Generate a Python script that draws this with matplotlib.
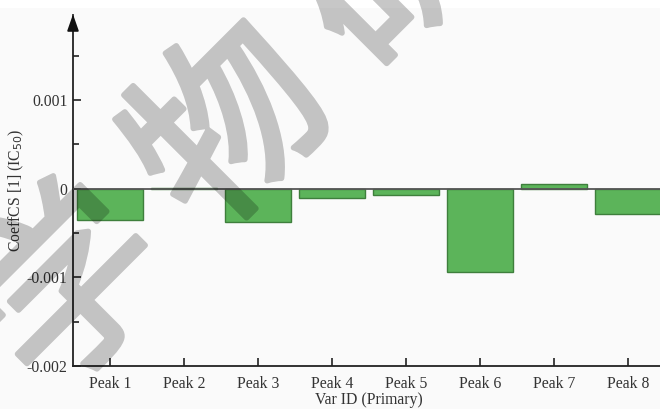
"""Bar chart of CoeffCS coefficients per peak."""
import numpy as np
import matplotlib
matplotlib.use("Agg")
import matplotlib.pyplot as plt
import matplotlib.patheffects as pe
from matplotlib.patches import Rectangle

peaks = ['Peak 1', 'Peak 2', 'Peak 3', 'Peak 4', 'Peak 5', 'Peak 6', 'Peak 7', 'Peak 8']
coeffs = [-0.00035, 0.00001, -0.00037, -0.00011, -0.00007, -0.00094, 0.00005, -0.00028]
yticks = [-0.002, -0.001, 0, 0.001]
ytick_labels = ['-0.002', '-0.001', '0', '0.001']
watermark_chars = ['学', '物', '研']

plt.rcParams['font.family'] = ['Liberation Serif', 'DejaVu Serif']

W, H = 660, 409
fig = plt.figure(figsize=(W / 100, H / 100), dpi=100)
fig.patch.set_facecolor('white')
fig.patches.append(Rectangle((0, 0), 1, 1 - 8 / H, transform=fig.transFigure,
                             facecolor='#fafafa', edgecolor='none', zorder=-10))

ax = fig.add_axes([73 / W, 43 / H, 8 * 74 / W, 351 / H])
ax.set_facecolor('none')

x = np.arange(len(peaks))
ax.bar(x, coeffs, width=0.9, color='#5cb45a', edgecolor='#3e7f3c', linewidth=1.0, zorder=3)
ax.axhline(0, color='#555555', linewidth=1.3, zorder=4)

ax.set_xlim(-0.5, 7.5)
ax.set_ylim(-0.002, 0.00196)

for side in ['top', 'right']:
    ax.spines[side].set_visible(False)
for side in ['left', 'bottom']:
    ax.spines[side].set_linewidth(1.3)
    ax.spines[side].set_color('#222222')

ax.set_xticks(x)
ax.set_xticklabels(peaks)
ax.set_yticks(yticks)
ax.set_yticklabels(ytick_labels)
ax.set_yticks([-0.0015, -0.0005, 0.0005, 0.0015], minor=True)
ax.tick_params(axis='both', which='major', direction='in', length=6, width=1.2,
               colors='#222222', labelsize=11.3, labelcolor='#333333')
ax.tick_params(axis='y', which='minor', direction='in', length=4, width=1.2, colors='#222222')
ax.tick_params(axis='y', pad=4)
ax.tick_params(axis='x', pad=7)

ax.set_xlabel('Var ID (Primary)', fontsize=11.3, color='#333333', labelpad=0)
ax.set_ylabel('CoeffCS [1] (IC$_{50}$)', fontsize=11.3, color='#333333')
ax.yaxis.set_label_coords(-47 / 592, 0.5)

# arrow head on top of the y axis
ax.annotate('', xy=(0, 1.01), xytext=(0, 0.955), xycoords='axes fraction',
            arrowprops=dict(arrowstyle='-|>,head_length=1.0,head_width=0.35',
                            color='#111111', lw=1.3), annotation_clip=False)


def fade(img, dpi):
    # draw the glyph opaque, then make the whole thing translucent at once
    img = img.copy()
    img[..., 3] *= 0.22
    return img, 0, 0


# watermark, one glyph at a time along a diagonal; the stroke thickens the glyphs
for i, ch in enumerate(watermark_chars):
    cx = 235 + (i - 1) * 160
    cy = 132 - (i - 1) * 162
    t = fig.text(cx / W, 1 - cy / H, ch, fontsize=136, color='black',
                 family=['Noto Sans CJK SC', 'DejaVu Sans'], rotation=45,
                 ha='center', va='center', rotation_mode='anchor', zorder=20,
                 path_effects=[pe.Stroke(linewidth=4, foreground='black')])
    t.set_agg_filter(fade)

fig.savefig('out.png', dpi=100, facecolor=fig.get_facecolor())
